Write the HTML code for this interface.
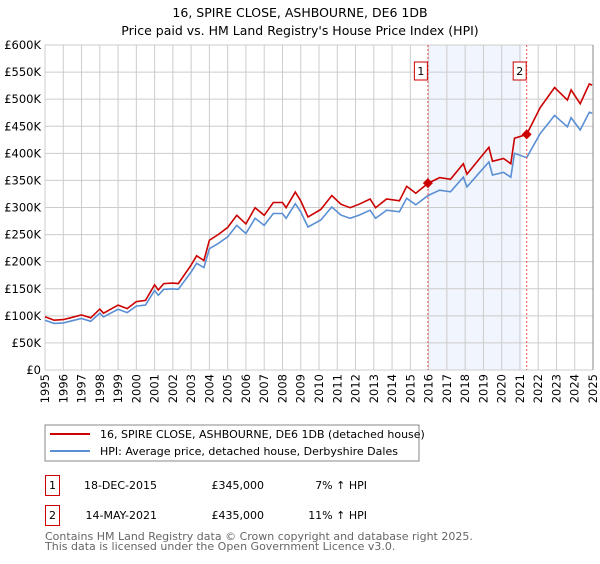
<!DOCTYPE html>
<html><head><meta charset="utf-8"><style>
body{margin:0;background:#fff;font-family:"DejaVu Sans","Liberation Sans",sans-serif;}
svg text{font-family:"DejaVu Sans","Liberation Sans",sans-serif;}
</style></head><body>
<svg id="chart" width="600" height="560" xmlns="http://www.w3.org/2000/svg">
<text x="300" y="17" text-anchor="middle" font-size="12.5">16, SPIRE CLOSE, ASHBOURNE, DE6 1DB</text>
<text x="300" y="35" text-anchor="middle" font-size="12.5">Price paid vs. HM Land Registry's House Price Index (HPI)</text>
<g id="grid"></g><g id="series"></g><g id="axes"></g>
<rect x="45" y="425" width="374" height="36" fill="none" stroke="#888"/>
<line x1="50" y1="434" x2="90" y2="434" stroke="#cc0000" stroke-width="2"/>
<text x="100" y="438" font-size="11">16, SPIRE CLOSE, ASHBOURNE, DE6 1DB (detached house)</text>
<line x1="50" y1="451" x2="90" y2="451" stroke="#5b8fd4" stroke-width="2"/>
<text x="100" y="455" font-size="11">HPI: Average price, detached house, Derbyshire Dales</text>
<rect x="45.5" y="475.5" width="14" height="20" fill="none" stroke="#cc0000"/>
<text x="52.5" y="489" font-size="11" text-anchor="middle">1</text>
<text x="157" y="489" font-size="11" text-anchor="end">18-DEC-2015</text>
<text x="264" y="489" font-size="11" text-anchor="end">£345,000</text>
<text x="367" y="489" font-size="11" text-anchor="end">7% ↑ HPI</text>
<rect x="45.5" y="505.5" width="14" height="20" fill="none" stroke="#cc0000"/>
<text x="52.5" y="519" font-size="11" text-anchor="middle">2</text>
<text x="157" y="519" font-size="11" text-anchor="end">14-MAY-2021</text>
<text x="264" y="519" font-size="11" text-anchor="end">£435,000</text>
<text x="367" y="519" font-size="11" text-anchor="end">11% ↑ HPI</text>
<text x="45" y="540" font-size="11" fill="#666">Contains HM Land Registry data © Crown copyright and database right 2025.</text>
<text x="45" y="550" font-size="11" fill="#666">This data is licensed under the Open Government Licence v3.0.</text>
</svg>
<script>
const hpiYears=[1995,1995.5,1996,1996.5,1997,1997.5,1998,1998.2,1999,1999.5,2000,2000.5,2001,2001.2,2001.5,2002,2002.3,2003,2003.3,2003.7,2004,2004.5,2005,2005.5,2006,2006.5,2007,2007.5,2008,2008.2,2008.7,2009,2009.4,2010.1,2010.7,2011.2,2011.7,2012.2,2012.8,2013.1,2013.7,2014.4,2014.8,2015.3,2015.96,2016.6,2017.2,2017.9,2018.1,2018.8,2019.3,2019.5,2020.1,2020.5,2020.7,2021.37,2022.1,2022.9,2023.6,2023.8,2024.3,2024.8,2024.95];
const hpiValues=[92,86,87,91,95,90,105,98,112,106,118,120,147,138,149,150,149,181,197,189,224,234,246,267,252,280,267,289,289,280,307,292,264,277,301,286,280,286,295,280,295,292,317,305,322,332,329,356,338,365,384,360,365,356,400,392,436,470,449,466,443,476,474];
const saleYears=[2015.96,2021.37];
const salePrices=[345,435];
const saleLabels=["1","2"];
const preSaleRatio=1.07;
const yTicks=[0,50,100,150,200,250,300,350,400,450,500,550,600];
const yTickLabels=["£0","£50K","£100K","£150K","£200K","£250K","£300K","£350K","£400K","£450K","£500K","£550K","£600K"];
const xTicks=[1995,1996,1997,1998,1999,2000,2001,2002,2003,2004,2005,2006,2007,2008,2009,2010,2011,2012,2013,2014,2015,2016,2017,2018,2019,2020,2021,2022,2023,2024,2025];

const L=45,R=593,T=45,B=370;
const xs=y=>L+(y-1995)/30*(R-L);
const ys=v=>B-v/600*(B-T);
const NS="http://www.w3.org/2000/svg";
function mk(tag,parent,attrs){const e=document.createElementNS(NS,tag);for(const k in attrs)e.setAttribute(k,attrs[k]);parent.appendChild(e);return e;}
const grid=document.getElementById('grid'),series=document.getElementById('series'),axes=document.getElementById('axes');
let shade=mk('rect',grid,{x:xs(saleYears[0]),y:T,width:xs(2021.1)-xs(saleYears[0]),height:B-T,fill:'#eef3fc',opacity:0.8});


yTicks.forEach((v,i)=>{
 let g=mk('line',grid,{x1:L,x2:R,y1:ys(v),y2:ys(v),stroke:'#cccccc'});
 
 
 let t=mk('text',axes,{x:41,y:ys(v)+4,'text-anchor':'end','font-size':'11.5'});t.textContent=yTickLabels[i];
 
 
});
xTicks.forEach(y=>{
 let g=mk('line',grid,{x1:xs(y),x2:xs(y),y1:T,y2:B,stroke:'#cccccc'});
 
 
 const tx=xs(y)+4,ty=374;
 let t=mk('text',axes,{x:tx,y:ty,'text-anchor':'end','font-size':'11.5',transform:`rotate(-90 ${tx} ${ty})`});t.textContent=String(y);
 
 
});
function ratioAt(y){
 if(y<saleYears[1]) return preSaleRatio;
 const i=hpiYears.indexOf(saleYears[1]);
 return salePrices[1]/hpiValues[i];
}
const bluePts=hpiYears.map((y,i)=>xs(y).toFixed(1)+','+ys(hpiValues[i]).toFixed(1)).join(' ');
const redPts=hpiYears.map((y,i)=>xs(y).toFixed(1)+','+ys(hpiValues[i]*ratioAt(y)).toFixed(1)).join(' ');
let bl=mk('polyline',series,{points:bluePts,fill:'none',stroke:'#5b8fd4','stroke-width':1.6});


let rl=mk('polyline',series,{points:redPts,fill:'none',stroke:'#cc0000','stroke-width':1.6});


saleYears.forEach((y,i)=>{
 let v=mk('line',series,{x1:xs(y),x2:xs(y),y1:T,y2:B,stroke:'#ee5555','stroke-dasharray':'2,2','stroke-width':1});
 
 
 const cx=xs(y),cy=ys(salePrices[i]);
 let d=mk('polygon',series,{points:`${cx},${cy-5} ${cx+5},${cy} ${cx},${cy+5} ${cx-5},${cy}`,fill:'#cc0000'});
 
 
 let b=mk('rect',series,{x:cx-13.5,y:62,width:13,height:18,fill:'#fff',stroke:'#cc0000'});
 
 
 let t=mk('text',series,{x:cx-7,y:75,'text-anchor':'middle','font-size':'11'});t.textContent=saleLabels[i];
 
 
});
let rb=mk('line',axes,{x1:R,x2:R,y1:T,y2:B,stroke:'#888'});


</script>
</body></html>
